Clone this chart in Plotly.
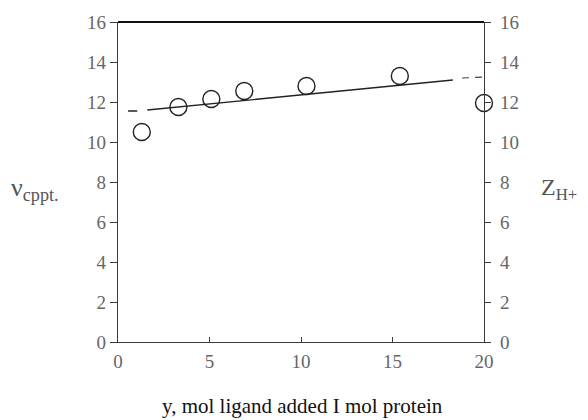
import plotly.graph_objects as go

# Data
y_added = [1.3, 3.3, 5.1, 6.9, 10.3, 15.4, 20.0]
nu_cppt = [10.5, 11.75, 12.15, 12.55, 12.8, 13.3, 11.95]

fit_solid_x = [1.6, 18.3]
fit_solid_y = [11.6, 13.1]
fit_dash_left_x = [0.55, 1.05]
fit_dash_left_y = [11.55, 11.55]
fit_dash_right_x = [18.8, 20.0]
fit_dash_right_y = [13.2, 13.25]

x_ticks = [0, 5, 10, 15, 20]
y_ticks = [0, 2, 4, 6, 8, 10, 12, 14, 16]

FONT = "Liberation Serif, Times New Roman, serif"
AXC = "#3a3a3a"
TXC = "#666666"
LBC = "#555555"

fig = go.Figure()
fig.add_trace(go.Scatter(x=fit_solid_x, y=fit_solid_y, mode="lines",
                         line=dict(color="#222", width=1.3), showlegend=False))
fig.add_trace(go.Scatter(x=fit_dash_left_x, y=fit_dash_left_y, mode="lines",
                         line=dict(color="#222", width=1.5), showlegend=False))
fig.add_trace(go.Scatter(x=fit_dash_right_x, y=fit_dash_right_y, mode="lines",
                         line=dict(color="#444", width=1.1, dash="7px,6px"), showlegend=False))
fig.add_trace(go.Scatter(x=y_added, y=nu_cppt, mode="markers", cliponaxis=False,
                         marker=dict(symbol="circle-open", size=17, color="#222",
                                     line=dict(width=1.4)), showlegend=False))
# invisible trace to activate right axis
fig.add_trace(go.Scatter(x=[None], y=[None], yaxis="y2", showlegend=False))


def px_x(p):
    return (p - 118) / 366.0


def px_y(p):
    return (342 - p) / 320.0


fig.update_layout(
    width=580, height=412,
    margin=dict(l=110, r=104, t=14, b=78, autoexpand=False),
    paper_bgcolor="white", plot_bgcolor="white",
    font=dict(family=FONT, size=19, color=TXC),
    xaxis=dict(range=[0, 20], tickvals=x_ticks, ticks="inside", ticklen=5,
               tickcolor=AXC, showline=True, linecolor=AXC, linewidth=1.2,
               showgrid=False, zeroline=False, ticklabelstandoff=2,
               tickfont=dict(size=19, color=TXC)),
    yaxis=dict(range=[0, 16], tickvals=y_ticks, ticks="outside", ticklen=7,
               tickcolor=AXC, showline=True, linecolor=AXC, linewidth=1.2,
               showgrid=False, zeroline=False, ticklabelstandoff=0,
               tickfont=dict(size=19, color=TXC)),
    yaxis2=dict(range=[0, 16], tickvals=y_ticks, ticks="outside", ticklen=6,
                tickcolor=AXC, showline=True, linecolor=AXC, linewidth=1.2,
                overlaying="y", side="right", showgrid=False, zeroline=False,
                ticklabelstandoff=5, tickfont=dict(size=19, color=TXC)),
    shapes=[dict(type="line", xref="paper", yref="paper", x0=0, x1=1, y0=1, y1=1,
                 line=dict(color="#111", width=2.2))],
    annotations=[
        dict(text="ν<sub>cppt.</sub>", xref="paper", yref="paper",
             x=px_x(9), y=px_y(189), xanchor="left", yanchor="middle",
             showarrow=False, font=dict(size=26, color=LBC, family=FONT)),
        dict(text="Z<sub>H+</sub>", xref="paper", yref="paper",
             x=px_x(539), y=px_y(189), xanchor="left", yanchor="middle",
             showarrow=False, font=dict(size=24, color=LBC, family=FONT)),
        dict(text="y, mol ligand added I mol protein", xref="paper", yref="paper",
             x=px_x(302), y=px_y(406), xanchor="center", yanchor="middle",
             showarrow=False, font=dict(size=21, color="#111", family=FONT)),
    ],
)

fig.write_html("out.html")
